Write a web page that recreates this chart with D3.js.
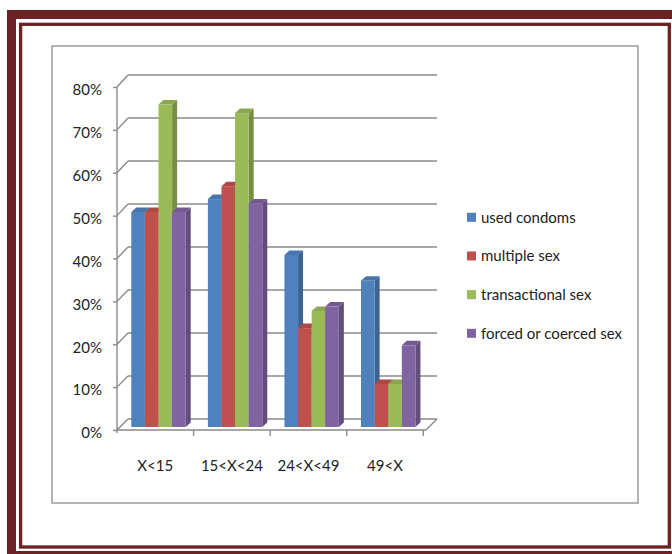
<!DOCTYPE html>
<html>
<head>
<meta charset="utf-8">
<script src="https://cdn.jsdelivr.net/npm/d3@7"></script>
<style>
  html, body { margin: 0; padding: 0; background: #fff; }
  svg { display: block; }
  text { font-family: Lato, "Liberation Sans", sans-serif; fill: #222; }
</style>
</head>
<body>
<svg id="chart" width="672" height="554"></svg>
<script>
// Age groups on the category axis
const categories = ["X<15", "15<X<24", "24<X<49", "49<X"];

// Share of respondents per behaviour, one array per series
const usedCondoms   = [0.50, 0.53, 0.40, 0.34];
const multipleSex   = [0.50, 0.56, 0.23, 0.10];
const transactional = [0.75, 0.73, 0.27, 0.10];
const forcedSex     = [0.50, 0.52, 0.28, 0.19];

const seriesNames  = ["used condoms", "multiple sex", "transactional sex", "forced or coerced sex"];
const seriesValues = [usedCondoms, multipleSex, transactional, forcedSex];
const seriesColors = ["#4F81BD", "#C0504D", "#9BBB59", "#8064A2"];

const yTicks = [0, 0.1, 0.2, 0.3, 0.4, 0.5, 0.6, 0.7, 0.8];

const svg = d3.select("#chart");
const maroon = "#6B2224";
const fontSize = 15;

// Page frame: heavy outer band plus a thin inner rule
svg.append("rect").attr("x", 11.5).attr("y", 14.5).attr("width", 680).attr("height", 541)
  .attr("fill", "none").attr("stroke", maroon).attr("stroke-width", 9);
svg.append("rect").attr("x", 20.6).attr("y", 24.3).attr("width", 648.7).attr("height", 522.7)
  .attr("fill", "none").attr("stroke", maroon).attr("stroke-width", 3.3);

// Chart area border
svg.append("rect").attr("x", 52).attr("y", 46).attr("width", 586).attr("height", 457)
  .attr("fill", "#fff").attr("stroke", "#8c8c8c").attr("stroke-width", 1.3);

// 3D projection: the back wall sits up and to the right of the front plane
const depthX = 11, depthY = -11;
const frontLeft = 117, frontRight = 426;

const x = d3.scaleBand().domain(categories).range([frontLeft, 423.3]);
const xInner = d3.scaleBand().domain(d3.range(seriesNames.length)).range([14.3, 68.7]);
const yFront = d3.scaleLinear().domain([0, 0.8]).range([430, 87]);
const yBack  = d3.scaleLinear().domain([0, 0.8]).range([419, 75]);
const yBar   = d3.scaleLinear().domain([0, 0.8]).range([427, 83]);

const grid = svg.append("g").attr("stroke", "#8a8a8a").attr("stroke-width", 1.4).attr("fill", "none");

// Back-wall gridlines
grid.selectAll("line.back").data(yTicks).join("line").attr("class", "back")
  .attr("x1", frontLeft + depthX).attr("x2", frontRight + depthX)
  .attr("y1", d => yBack(d)).attr("y2", d => yBack(d));

// Side-wall diagonals joining the front axis ticks to the back wall
grid.selectAll("line.diag").data(yTicks).join("line").attr("class", "diag")
  .attr("x1", frontLeft).attr("x2", frontLeft + depthX)
  .attr("y1", d => yFront(d)).attr("y2", d => yBack(d));

// Floor: right edge
grid.append("line").attr("x1", frontRight).attr("y1", yFront(0))
  .attr("x2", frontRight + depthX).attr("y2", yBack(0));

// Front value axis
const yAxis = d3.axisLeft(yFront).tickValues(yTicks).tickFormat(d3.format(".0%"))
  .tickSize(4).tickSizeOuter(0).tickPadding(11);
const gy = svg.append("g").attr("transform", `translate(${frontLeft},0)`).call(yAxis);
gy.select(".domain").attr("stroke", "#8a8a8a").attr("stroke-width", 1.4)
  .attr("d", `M0,${yFront(0.8)}V${yFront(0) + 3}`);
gy.selectAll(".tick line").attr("stroke", "#8a8a8a").attr("stroke-width", 1.4);
gy.selectAll(".tick text").attr("font-size", fontSize).attr("font-family", null).attr("dy", "0.52em");

// Front category axis
const xAxis = d3.axisBottom(x).tickSize(0).tickPadding(30);
const gx = svg.append("g").attr("transform", `translate(0,${yFront(0)})`).call(xAxis);
gx.select(".domain").attr("stroke", "#8a8a8a").attr("stroke-width", 1.4)
  .attr("d", `M${frontLeft},0H${frontRight}`);
gx.selectAll(".tick text").attr("font-size", fontSize).attr("font-family", null);
gx.selectAll("line.sep").data(categories).join("line").attr("class", "sep")
  .attr("x1", d => x(d) + x.bandwidth()).attr("x2", d => x(d) + x.bandwidth())
  .attr("y1", 0).attr("y2", 6).attr("stroke", "#8a8a8a").attr("stroke-width", 1.4);

// Bars: front face, right side, and top face, painted left to right
const barDX = 5, barDY = -4.5;
const bars = [];
categories.forEach((c, ci) => {
  seriesValues.forEach((vals, si) => {
    bars.push({ cat: c, s: si, v: vals[ci] });
  });
});

const gBars = svg.append("g");
const barG = gBars.selectAll("g.bar").data(bars).join("g").attr("class", "bar");

barG.each(function(d) {
  const g = d3.select(this);
  const x0 = x(d.cat) + xInner(d.s);
  const w = xInner.bandwidth();
  const y0 = yBar(0), y1 = yBar(d.v);
  const base = d3.color(seriesColors[d.s]);
  // side face
  g.append("path")
    .attr("d", `M${x0 + w},${y1}L${x0 + w + barDX},${y1 + barDY}L${x0 + w + barDX},${y0 + barDY}L${x0 + w},${y0}Z`)
    .attr("fill", base.darker(0.75));
  // top face
  g.append("path")
    .attr("d", `M${x0},${y1}L${x0 + barDX},${y1 + barDY}L${x0 + w + barDX},${y1 + barDY}L${x0 + w},${y1}Z`)
    .attr("fill", base.darker(0.3));
  // front face
  g.append("rect").attr("x", x0).attr("y", y1).attr("width", w).attr("height", y0 - y1)
    .attr("fill", base);
});

// Legend
const legend = svg.append("g");
const legendY = d3.scaleLinear().domain([0, 3]).range([217.3, 333.3]);
const li = legend.selectAll("g").data(seriesNames).join("g")
  .attr("transform", (d, i) => `translate(467,${legendY(i)})`);
li.append("rect").attr("x", 0).attr("y", -4.5).attr("width", 9).attr("height", 9)
  .attr("fill", (d, i) => seriesColors[i]);
li.append("text").attr("x", 14).attr("dy", "0.36em").attr("font-size", fontSize).text(d => d);
</script>
</body>
</html>
